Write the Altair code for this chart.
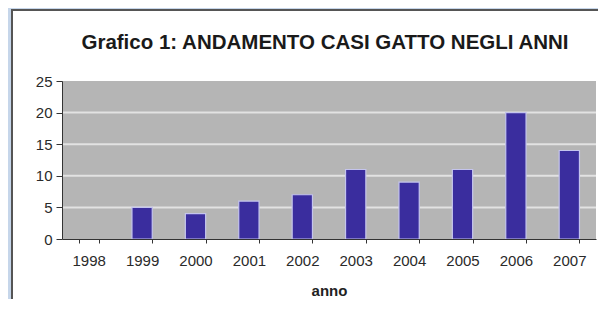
import altair as alt
import pandas as pd

anni = ["1998", "1999", "2000", "2001", "2002", "2003", "2004", "2005", "2006", "2007"]
casi = [0, 5, 4, 6, 7, 11, 9, 11, 20, 14]
griglia = [5, 10, 15, 20]
y_ticks = [0, 5, 10, 15, 20, 25]
titolo = ["Grafico 1: ANDAMENTO CASI GATTO NEGLI ANNI"]

df = pd.DataFrame({"anno": anni, "casi": casi})
grid_df = pd.DataFrame({"casi": griglia})
title_df = pd.DataFrame({"t": titolo})

W, H = 534, 158
FONT = "Liberation Sans"

xscale = alt.Scale(domain=anni, paddingInner=0.62, paddingOuter=0.31)
yscale = alt.Scale(domain=[0, 25], nice=False)
y_axis = alt.Axis(values=y_ticks, tickSize=6, labelPadding=4,
                  labelFontSize=15, labelColor="#2a2a2a", labelFont=FONT, zindex=2,
                  domainColor="#333333", tickColor="#333333", grid=False)

panel = alt.Chart(title_df).mark_rect(fill="white", stroke="#555555", strokeWidth=2).encode(
    x=alt.value(-50), x2=alt.value(600), y=alt.value(-71), y2=alt.value(300)
)

plotbg = alt.Chart(title_df).mark_rect(fill="#b5b5b5").encode(
    x=alt.value(0), x2=alt.value(W), y=alt.value(0), y2=alt.value(H)
)

title = alt.Chart(title_df).mark_text(
    font=FONT, fontSize=20.5, fontWeight="bold", color="#1a1a1a",
    align="center", baseline="middle"
).encode(text="t:N", x=alt.value(W / 2 - 4), y=alt.value(-38))

grid = alt.Chart(grid_df).mark_rule(color="#e2e2e2", strokeWidth=2).encode(
    y=alt.Y("casi:Q", scale=yscale, axis=y_axis, title=None),
    x=alt.value(0), x2=alt.value(W),
)

bars = alt.Chart(df).mark_bar(color="#3a2d9e", stroke="#c4c4ee", strokeWidth=1.2).encode(
    x=alt.X("anno:N", scale=xscale, sort=anni, title="anno",
            axis=alt.Axis(labelAngle=0, tickBand="extent", tickSize=4, labelPadding=10,
                          labelFontSize=15, labelColor="#2a2a2a", labelFont=FONT,
                          titleFont=FONT, titleFontSize=15, titleFontWeight="bold",
                          titleColor="#222222", titlePadding=15, zindex=2,
                          domainColor="#333333", tickColor="#333333", grid=False)),
    y=alt.Y("casi:Q", scale=yscale, title=None, axis=y_axis),
    opacity=alt.condition(alt.datum.casi > 0, alt.value(1), alt.value(0)),
)

chart = alt.layer(panel, plotbg, grid, bars, title).properties(
    width=W, height=H,
    padding={"left": 54, "top": 73, "right": 2, "bottom": 60},
    autosize=alt.AutoSizeParams(type="none"),
    background="#c6d6ea",
).configure_view(stroke=None)

chart.save("out.html", embed_options={"renderer": "svg", "actions": False})
